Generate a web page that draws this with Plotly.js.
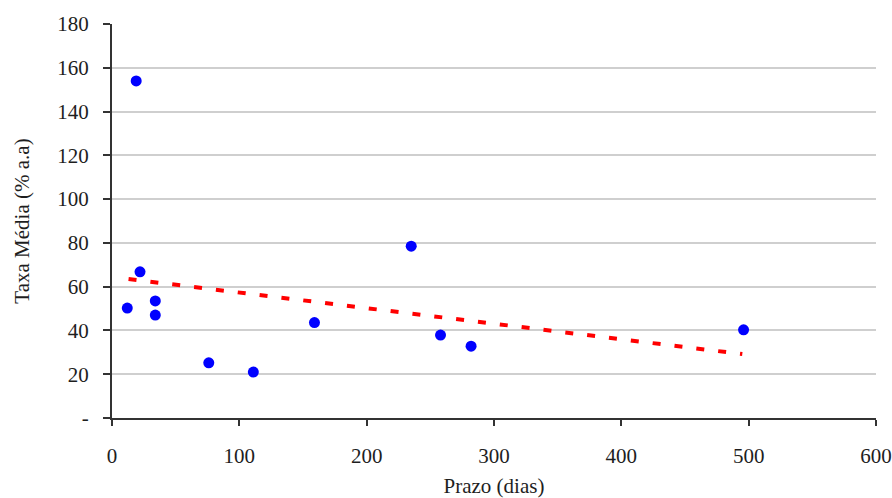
<!DOCTYPE html>
<html>
<head>
<meta charset="utf-8">
<script src="https://cdn.plot.ly/plotly-3.0.1.min.js"></script>
<style>html,body{margin:0;padding:0;background:#fff;}#chart{width:892px;height:498px;}</style>
</head>
<body>
<div id="chart"></div>
<script>
// Observed points: Prazo (dias) vs Taxa Média (% a.a)
const prazoDias = [12, 19, 22, 34, 34, 76, 111, 159, 235, 258, 282, 496];
const taxaMedia = [50.2, 154, 66.8, 53.5, 47, 25.2, 21, 43.6, 78.5, 37.9, 32.8, 40.3];
// Trend line endpoints
const trendX = [13, 495];
const trendY = [63.5, 29.2];
// Tick labels
const yTickVals = [0, 20, 40, 60, 80, 100, 120, 140, 160, 180];
const yTickText = ["-", "20", "40", "60", "80", "100", "120", "140", "160", "180"];
const xTickVals = [0, 100, 200, 300, 400, 500, 600];

const serif = "Liberation Serif, Times New Roman, serif";
const txt = "#1e1e1e";

const traces = [
  {
    x: trendX, y: trendY, type: "scatter", mode: "lines",
    line: {color: "#ff0000", width: 4, dash: "8px,14px"},
    hoverinfo: "skip", showlegend: false
  },
  {
    x: prazoDias, y: taxaMedia, type: "scatter", mode: "markers",
    marker: {color: "#0000ff", size: 11, line: {width: 0}},
    showlegend: false
  }
];

const layout = {
  width: 892, height: 498,
  margin: {l: 112, r: 16, t: 24, b: 80},
  paper_bgcolor: "#ffffff", plot_bgcolor: "#ffffff",
  font: {family: serif, size: 21, color: txt},
  xaxis: {
    range: [0, 600], tickvals: xTickVals, showgrid: false, zeroline: false,
    showline: true, linecolor: "#333333", linewidth: 2,
    ticks: "outside", ticklen: 6, tickwidth: 2, tickcolor: "#333333",
    ticklabelstandoff: 12,
    tickfont: {family: serif, size: 21, color: txt},
    title: {text: "Prazo (dias)", font: {family: serif, size: 21, color: txt}, standoff: 14}
  },
  yaxis: {
    range: [0, 180], tickvals: yTickVals, ticktext: yTickText,
    showgrid: true, gridcolor: "#cfcfcf", gridwidth: 2, zeroline: false,
    showline: true, linecolor: "#333333", linewidth: 2,
    ticks: "outside", ticklen: 7, tickwidth: 2, tickcolor: "#333333",
    ticklabelstandoff: 10,
    tickfont: {family: serif, size: 21, color: txt},
    title: {text: "Taxa Média (% a.a)", font: {family: serif, size: 21, color: txt}, standoff: 22}
  }
};

Plotly.newPlot("chart", traces, layout, {displayModeBar: false, staticPlot: true});
</script>
</body>
</html>
